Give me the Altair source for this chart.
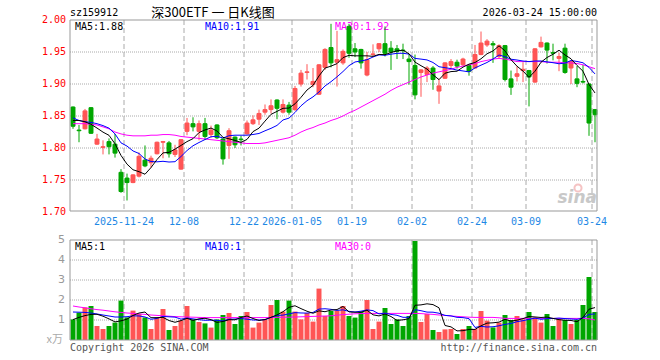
import altair as alt
import pandas as pd

# ---------------- data ----------------
month_days = {
    "2025-11": [11, 12, 13, 14, 17, 18, 19, 20, 21, 24, 25, 26, 27, 28],
    "2025-12": [1, 2, 3, 4, 5, 8, 9, 10, 11, 12, 15, 16, 17, 18, 19, 22, 23, 24, 25, 26, 29, 30, 31],
    "2026-01": [5, 6, 7, 8, 9, 12, 13, 14, 15, 16, 19, 20, 21, 22, 23, 26, 27, 28, 29, 30],
    "2026-02": [2, 3, 4, 5, 6, 9, 10, 11, 12, 13, 24, 25, 26, 27],
    "2026-03": [2, 3, 4, 5, 6, 9, 10, 11, 12, 13, 16, 17, 18, 19, 20, 23, 24],
}

opens = [1.864, 1.828, 1.830, 1.863, 1.806, 1.801, 1.810, 1.806, 1.762, 1.753,
         1.746, 1.756, 1.781, 1.777, 1.791, 1.809, 1.808, 1.790, 1.767, 1.826,
         1.838, 1.826, 1.838, 1.821, 1.836, 1.814, 1.804, 1.817, 1.814, 1.822,
         1.838, 1.845, 1.856, 1.860, 1.875, 1.856, 1.867, 1.860, 1.900, 1.918,
         1.899, 1.884, 1.926, 1.957, 1.934, 1.933, 1.990, 1.955, 1.954, 1.914,
         1.946, 1.955, 1.963, 1.956, 1.955, 1.953, 1.939, 1.929, 1.918, 1.915,
         1.925, 1.889, 1.909, 1.929, 1.934, 1.930, 1.929, 1.925, 1.946, 1.961,
         1.963, 1.943, 1.960, 1.908, 1.912, 1.921, 1.921, 1.903, 1.958, 1.964,
         1.949, 1.940, 1.956, 1.925, 1.908, 1.904, 1.900, 1.860]
highs = [1.865, 1.836, 1.861, 1.864, 1.822, 1.812, 1.815, 1.822, 1.767, 1.760,
         1.759, 1.793, 1.804, 1.788, 1.810, 1.811, 1.811, 1.805, 1.814, 1.847,
         1.848, 1.843, 1.847, 1.835, 1.837, 1.815, 1.831, 1.818, 1.819, 1.843,
         1.851, 1.860, 1.868, 1.876, 1.876, 1.876, 1.872, 1.897, 1.922, 1.931,
         1.925, 1.931, 1.956, 1.994, 1.983, 1.954, 1.994, 1.964, 1.955, 1.950,
         1.962, 1.964, 1.990, 1.967, 1.961, 1.963, 1.947, 1.946, 1.923, 1.928,
         1.928, 1.908, 1.934, 1.939, 1.938, 1.941, 1.930, 1.961, 1.982, 1.970,
         1.967, 1.962, 1.961, 1.921, 1.928, 1.934, 1.922, 1.956, 1.974, 1.965,
         1.963, 1.949, 1.963, 1.937, 1.928, 1.930, 1.901, 1.861]
lows = [1.830, 1.809, 1.829, 1.822, 1.805, 1.790, 1.790, 1.785, 1.730, 1.718,
        1.745, 1.754, 1.770, 1.769, 1.790, 1.784, 1.785, 1.786, 1.766, 1.820,
        1.826, 1.812, 1.813, 1.816, 1.814, 1.774, 1.783, 1.800, 1.804, 1.821,
        1.836, 1.836, 1.852, 1.854, 1.845, 1.854, 1.852, 1.858, 1.896, 1.907,
        1.895, 1.883, 1.922, 1.926, 1.896, 1.930, 1.941, 1.942, 1.924, 1.912,
        1.942, 1.950, 1.943, 1.922, 1.939, 1.939, 1.899, 1.876, 1.880, 1.903,
        1.891, 1.869, 1.908, 1.925, 1.924, 1.928, 1.913, 1.924, 1.945, 1.958,
        1.933, 1.940, 1.904, 1.883, 1.904, 1.903, 1.865, 1.902, 1.957, 1.932,
        1.937, 1.920, 1.916, 1.900, 1.895, 1.901, 1.819, 1.809]
closes = [1.834, 1.827, 1.858, 1.823, 1.814, 1.802, 1.802, 1.792, 1.732, 1.746,
          1.758, 1.787, 1.772, 1.784, 1.809, 1.810, 1.791, 1.797, 1.813, 1.839,
          1.833, 1.838, 1.818, 1.828, 1.816, 1.783, 1.827, 1.805, 1.813, 1.839,
          1.844, 1.854, 1.860, 1.866, 1.862, 1.868, 1.856, 1.893, 1.917, 1.919,
          1.904, 1.930, 1.954, 1.933, 1.938, 1.951, 1.948, 1.950, 1.933, 1.938,
          1.947, 1.963, 1.948, 1.950, 1.951, 1.952, 1.935, 1.883, 1.922, 1.925,
          1.907, 1.897, 1.933, 1.935, 1.928, 1.939, 1.920, 1.946, 1.964, 1.967,
          1.961, 1.960, 1.907, 1.895, 1.916, 1.923, 1.911, 1.955, 1.965, 1.953,
          1.948, 1.943, 1.918, 1.935, 1.901, 1.903, 1.839, 1.852]
volumes = [1.03, 1.37, 1.63, 1.70, 0.70, 0.55, 0.70, 0.87, 1.97, 1.13,
           1.47, 1.30, 1.13, 0.55, 1.13, 1.55, 0.50, 0.70, 0.97, 1.70,
           1.03, 0.90, 0.83, 0.62, 1.03, 1.25, 1.35, 0.80, 1.20, 1.40,
           0.62, 0.87, 1.03, 1.75, 2.00, 1.42, 1.97, 1.42, 1.03, 1.35,
           0.92, 2.57, 1.20, 1.45, 1.47, 1.70, 1.20, 1.12, 1.43, 2.00,
           0.55, 0.92, 1.60, 0.80, 1.03, 0.70, 1.20, 4.95, 0.90, 1.30,
           0.50, 0.40, 0.53, 0.55, 0.30, 0.55, 0.70, 0.55, 1.45, 0.97,
           0.63, 0.87, 1.25, 1.00, 1.20, 1.03, 1.40, 1.13, 0.87, 1.30,
           0.70, 1.08, 1.00, 0.80, 1.00, 1.75, 3.15, 1.40]

# moving averages: first points (history before the window)
price_ma5_head = [1.843, 1.843, 1.841, 1.837]
price_ma10_head = [1.847, 1.843, 1.841, 1.840, 1.838, 1.835, 1.831, 1.822, 1.808]
price_ma30 = [1.838, 1.838, 1.838, 1.837, 1.836, 1.833, 1.830, 1.825, 1.822, 1.820,
              1.819, 1.819, 1.819, 1.820, 1.820, 1.821, 1.821, 1.820, 1.818, 1.817,
              1.816, 1.815, 1.814, 1.813, 1.812, 1.811, 1.810, 1.809, 1.808, 1.807,
              1.807, 1.807, 1.808, 1.810, 1.812, 1.814, 1.816, 1.820, 1.825, 1.829,
              1.832, 1.836, 1.839, 1.843, 1.846, 1.850, 1.855, 1.859, 1.864, 1.869,
              1.874, 1.879, 1.884, 1.890, 1.895, 1.899, 1.903, 1.907, 1.911, 1.914,
              1.917, 1.919, 1.921, 1.923, 1.926, 1.928, 1.930, 1.932, 1.935, 1.937,
              1.939, 1.940, 1.939, 1.937, 1.935, 1.935, 1.935, 1.935, 1.935, 1.934,
              1.934, 1.934, 1.933, 1.933, 1.932, 1.930, 1.927, 1.924]
vol_ma5_head = [1.02, 1.13, 1.22, 1.28]
vol_ma10_head = [1.40, 1.39, 1.38, 1.35, 1.30, 1.25, 1.20, 1.15, 1.15]
vol_ma30 = [1.70, 1.65, 1.61, 1.56, 1.52, 1.49, 1.45, 1.41, 1.38, 1.35,
            1.33, 1.30, 1.28, 1.25, 1.23, 1.21, 1.19, 1.17, 1.16, 1.15,
            1.14, 1.13, 1.12, 1.12, 1.12, 1.12, 1.12, 1.12, 1.12, 1.12,
            1.12, 1.12, 1.12, 1.13, 1.13, 1.14, 1.14, 1.15, 1.16, 1.17,
            1.18, 1.19, 1.20, 1.21, 1.24, 1.27, 1.29, 1.31, 1.32, 1.33,
            1.33, 1.33, 1.33, 1.33, 1.33, 1.33, 1.33, 1.33, 1.32, 1.30,
            1.28, 1.25, 1.23, 1.20, 1.18, 1.16, 1.14, 1.13, 1.13, 1.13,
            1.13, 1.11, 1.08, 1.08, 1.08, 1.08, 1.08, 1.08, 1.08, 1.08,
            1.08, 1.08, 1.08, 1.08, 1.08, 1.08, 1.06, 1.00]

tick_dates = ["2025-11-24", "2025-12-08", "2025-12-22", "2026-01-05", "2026-01-19",
              "2026-02-02", "2026-02-24", "2026-03-09", "2026-03-24"]
tick_texts = ["2025-11-24", "12-08", "12-22", "2026-01-05", "01-19",
              "02-02", "02-24", "03-09", "03-24"]
price_ticks = [2.00, 1.95, 1.90, 1.85, 1.80, 1.75, 1.70]
price_grid = [1.95, 1.90, 1.85, 1.80, 1.75]
vol_ticks = [5, 4, 3, 2, 1]
vol_grid = [4, 3, 2, 1]

# ---------------- tables ----------------
dates = [f"{m}-{d:02d}" for m, ds in month_days.items() for d in ds]
n = len(dates)
df = pd.DataFrame({"date": dates, "open": opens, "high": highs, "low": lows,
                   "close": closes, "vol": volumes})
df["i"] = range(n)
df["dir"] = ["up" if c >= o else "down" for o, c in zip(opens, closes)]
df["blo"] = df[["open", "close"]].min(axis=1)
df["bhi"] = df[["open", "close"]].max(axis=1)
df["xc"] = df["i"] + 0.5
df["x0"] = df["i"] + 0.17
df["x1"] = df["i"] + 0.83
df["v0"] = df["i"] + 0.085
df["v1"] = df["i"] + 0.915
df["zero"] = 0.0

cs = pd.Series(closes)
ma5 = cs.rolling(5).mean().tolist()
ma10 = cs.rolling(10).mean().tolist()
ma5[:4] = price_ma5_head
ma10[:9] = price_ma10_head
vsr = pd.Series(volumes)
vma5 = vsr.rolling(5).mean().tolist()
vma10 = vsr.rolling(10).mean().tolist()
vma5[:4] = vol_ma5_head
vma10[:9] = vol_ma10_head
df["ma5"], df["ma10"], df["ma30"] = ma5, ma10, price_ma30
df["vma5"], df["vma10"], df["vma30"] = vma5, vma10, vol_ma30

ticks_df = pd.DataFrame({"i": [dates.index(d) for d in tick_dates], "t": tick_texts})

# ---------------- styling ----------------
W, H = 528, 320
FONT = "DejaVu Sans Mono"
RED, GREEN = "#FF5555", "#00A600"
GRID = "#AAAAAA"
xs = alt.Scale(domain=[0, 88], nice=False, zero=False)
ps = alt.Scale(domain=[1.5, 2.0], nice=False, zero=False)
vs = alt.Scale(domain=[0, 16], nice=False, zero=False)
dir_scale = alt.Scale(domain=["up", "down"], range=[RED, GREEN])

base = alt.Chart(df)


def label(text, x, y, color="#000000", size=10, align="left", font=FONT, **kw):
    return alt.Chart(pd.DataFrame({"t": [text]})).mark_text(
        align=align, baseline="middle", color=color, fontSize=size, font=font, **kw
    ).encode(x=alt.value(x), y=alt.value(y), text="t:N")


layers = []

# grid lines
layers.append(alt.Chart(pd.DataFrame({"v": price_grid})).mark_rule(
    color=GRID, strokeDash=[1, 1], strokeWidth=1).encode(
    y=alt.Y("v:Q", scale=ps, axis=None), x=alt.value(0), x2=alt.value(W - 1)))
layers.append(alt.Chart(pd.DataFrame({"v": vol_grid})).mark_rule(
    color=GRID, strokeDash=[1, 1], strokeWidth=1).encode(
    y=alt.Y("v:Q", scale=vs, axis=None), x=alt.value(0), x2=alt.value(W - 1)))
layers.append(alt.Chart(ticks_df).mark_rule(
    color=GRID, strokeDash=[5, 3], strokeWidth=1).encode(
    x=alt.X("i:Q", scale=xs, axis=None), y=alt.value(0), y2=alt.value(191)))
layers.append(alt.Chart(ticks_df).mark_rule(
    color=GRID, strokeDash=[5, 3], strokeWidth=1).encode(
    x=alt.X("i:Q", scale=xs, axis=None), y=alt.value(220), y2=alt.value(320)))

# tick labels
layers.append(alt.Chart(pd.DataFrame({"v": price_ticks, "t": [f"{v:.2f}" for v in price_ticks]}))
              .mark_text(align="right", baseline="middle", color="#FF0000", font=FONT, fontSize=10)
              .encode(x=alt.value(-4), y=alt.Y("v:Q", scale=ps, axis=None), text="t:N"))
layers.append(alt.Chart(pd.DataFrame({"v": vol_ticks, "t": [str(v) for v in vol_ticks]}))
              .mark_text(align="right", baseline="middle", color="#999999", font="DejaVu Sans", fontSize=11)
              .encode(x=alt.value(-5), y=alt.Y("v:Q", scale=vs, axis=None), text="t:N"))
layers.append(alt.Chart(ticks_df).mark_text(
    align="center", baseline="middle", color="#1E88E5", font=FONT, fontSize=10).encode(
    x=alt.X("i:Q", scale=xs, axis=None), y=alt.value(202), text="t:N"))

# texts
layers += [
    label("sz159912", 0, -7),
    label("深300ETF 一 日K线图", 143, -7, size=13, align="center", font="Noto Sans CJK SC"),
    label("2026-03-24 15:00:00", 527, -7, align="right"),
    label("MA5:1.88", 5, 7),
    label("MA10:1.91", 135, 7, color="#0000FF"),
    label("MA30:1.92", 265, 7, color="#FF00FF"),
    label("MA5:1", 5, 227),
    label("MA10:1", 135, 227, color="#0000FF"),
    label("MA30:0", 265, 227, color="#FF00FF"),
    label("x万", -7, 320, color="#AAAAAA", size=11, align="right", font="Noto Sans CJK SC"),
    label("Copyright 2026 SINA.COM", 0, 328, color="#555555"),
    label("http://finance.sina.com.cn", 527, 328, color="#555555", align="right"),
    label("sina", 527, 178, color="#C8C8C8", size=17, align="right", font="DejaVu Sans",
          fontStyle="italic", fontWeight="bold"),
]
layers.append(alt.Chart(pd.DataFrame({"t": ["eye"]})).mark_point(
    shape="circle", filled=False, stroke="#F2AAAA", strokeWidth=2, size=50).encode(
    x=alt.value(508), y=alt.value(168)))

# candles
layers.append(base.mark_rule(strokeWidth=1).encode(
    x=alt.X("xc:Q", scale=xs, axis=None),
    y=alt.Y("low:Q", scale=ps, axis=None), y2="high:Q",
    color=alt.Color("dir:N", scale=dir_scale, legend=None)))
layers.append(base.mark_rect(strokeWidth=1).encode(
    x=alt.X("x0:Q", scale=xs, axis=None), x2="x1:Q",
    y=alt.Y("blo:Q", scale=ps, axis=None), y2="bhi:Q",
    fill=alt.Fill("dir:N", scale=dir_scale, legend=None),
    stroke=alt.Stroke("dir:N", scale=dir_scale, legend=None)))

# price moving averages
for field, col in [("ma30", "#FF00FF"), ("ma10", "#0000FF"), ("ma5", "#000000")]:
    layers.append(base.mark_line(strokeWidth=1, color=col).encode(
        x=alt.X("xc:Q", scale=xs, axis=None),
        y=alt.Y(f"{field}:Q", scale=ps, axis=None)))

# volume bars
layers.append(base.mark_rect().encode(
    x=alt.X("v0:Q", scale=xs, axis=None), x2="v1:Q",
    y=alt.Y("zero:Q", scale=vs, axis=None), y2="vol:Q",
    fill=alt.Fill("dir:N", scale=dir_scale, legend=None)))
for field, col in [("vma30", "#FF00FF"), ("vma10", "#0000FF"), ("vma5", "#000000")]:
    layers.append(base.mark_line(strokeWidth=1, color=col).encode(
        x=alt.X("xc:Q", scale=xs, axis=None),
        y=alt.Y(f"{field}:Q", scale=vs, axis=None)))

# panel borders
for y0, y1 in [(0, 191), (220, 320)]:
    layers.append(alt.Chart(pd.DataFrame({"t": ["b"]})).mark_rect(
        fill=None, stroke="#999999", strokeWidth=1).encode(
        x=alt.value(0), x2=alt.value(W - 1), y=alt.value(y0), y2=alt.value(y1)))

chart = alt.layer(*layers).resolve_scale(y="independent").properties(
    width=W, height=H,
    padding={"left": 70, "top": 20, "right": 62, "bottom": 20},
    autosize="none", background="white",
).configure_view(stroke=None)

chart.save("out.html", embed_options={"renderer": "svg", "actions": False})
